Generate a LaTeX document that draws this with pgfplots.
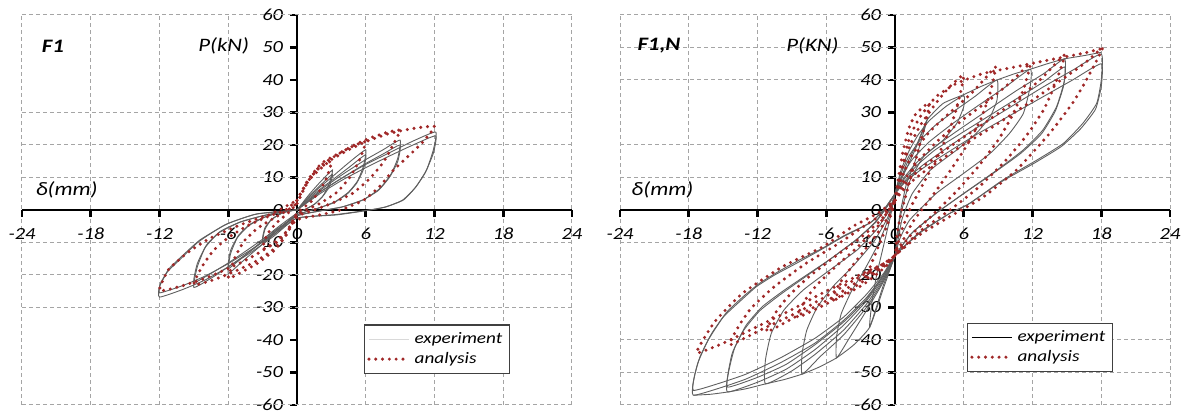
\documentclass[border=0pt]{standalone}
\usepackage{fontspec}
\setmainfont{Carlito}[FakeStretch=1.2]
\usepackage{pgfplots}
\pgfplotsset{compat=1.18}
\definecolor{anred}{RGB}{160,40,40}
\definecolor{exgray}{RGB}{95,95,95}
\definecolor{gridgray}{RGB}{165,165,165}
\tikzset{lbl/.style={font=\itshape\fontsize{9.5}{10}\selectfont}}
\pgfplotsset{
  hyst/.style={
    width=275pt, height=195pt, scale only axis,
    xmin=-24, xmax=24, ymin=-60, ymax=60,
    axis lines=middle, axis line style={-, line width=1.4pt, black},
    xtick={-24,-18,...,24}, ytick={-60,-50,...,60},
    hide obscured x ticks=false, hide obscured y ticks=false,
    xmajorgrids=true,
    grid style={dash pattern=on 2pt off 1.5pt, gridgray, line width=0.5pt},
    major tick style={line width=1.4pt, black},
    major tick length=3.5pt,
    tick align=outside,
    extra y tick labels={},
    extra y tick style={grid=major, major tick length=0pt},
    /pgf/number format/assume math mode=true,
    tick label style={font=\itshape\fontsize{8.5}{9}\selectfont},
    xticklabel style={yshift=-2pt},
    legend image code/.code={\draw[#1] (0pt,0pt) -- (20pt,0pt);},
    legend cell align=left,
  },
  exp/.style={exgray, line width=0.45pt, smooth, tension=0.3, forget plot},
  anaL/.style={anred, line width=1.7pt, line cap=round, dash pattern=on 0pt off 3.4pt},
  ana/.style={anaL, smooth, tension=0.3, forget plot},
}
\begin{document}
\begin{tikzpicture}
\path[use as bounding box] (0,0) rectangle (592pt,206pt);
% ---------------- left panel F1 ----------------
\begin{axis}[hyst, at={(11pt,3.5pt)}, anchor=south west,
  extra y ticks={60,30,20,10,-10,-20,-30,-60},
  legend style={at={(0.887,0.08)}, anchor=south east, draw=black!75, line width=0.6pt,
    font=\itshape\fontsize{8}{9}\selectfont, inner sep=1.5pt, row sep=-1pt}]
\addlegendimage{black!15, line width=0.45pt}
\addlegendentry{experiment}
\addlegendimage{anaL}
\addlegendentry{analysis}
% experiment
\addplot[exp] coordinates {(0,0) (1,4.5) (2,8.5) (3.1,12.3) (2.8,8) (2.3,4.5) (1.6,2) (0.8,0.3) (0,-1) (-1,-4) (-2,-7) (-3,-10) (-2.8,-6) (-2.3,-3.2) (-1.5,-1.3) (-0.7,-0.3) (0,0)};
\addplot[exp] coordinates {(0,0) (1,4) (2,7.5) (3.1,11) (2.8,7) (2.2,4) (1.5,1.7) (0.7,0.2) (0,-1) (-1,-3.5) (-2,-6.2) (-3,-9) (-2.8,-5.5) (-2.2,-2.8) (-1.4,-1.1) (-0.6,-0.2) (0,0)};
\addplot[exp] coordinates {(0,0) (1.5,5.5) (3,10) (4.5,14.5) (6,18.5) (5.8,13.5) (5.3,9) (4.5,5.5) (3.3,2.5) (1.8,0.5) (0,-1.5) (-1.5,-6) (-3,-10.5) (-4.5,-15) (-6,-19.5) (-5.8,-13.5) (-5.2,-8.5) (-4.2,-4.8) (-2.8,-2.2) (-1.3,-0.6) (0,0)};
\addplot[exp] coordinates {(0,0) (1.5,5) (3,9) (4.5,13) (6,17) (5.8,12.5) (5.2,8.2) (4.4,5) (3.2,2.2) (1.7,0.4) (0,-1.5) (-1.5,-5.5) (-3,-9.5) (-4.5,-13.8) (-6,-18) (-5.8,-12.5) (-5.1,-7.8) (-4.1,-4.4) (-2.7,-2) (-1.2,-0.5) (0,0)};
\addplot[exp] coordinates {(0,0) (2,6) (4,11) (6,15.5) (7.5,18.5) (9,21.5) (8.8,16) (8.2,11) (7.2,6.5) (5.8,3.2) (4,1) (2,-0.3) (0,-1.8) (-2,-7) (-4,-12.5) (-6,-17.5) (-7.5,-21) (-9,-23.8) (-8.7,-17.5) (-8,-11.5) (-6.8,-7) (-5,-3.8) (-3,-1.8) (-1.3,-0.6) (0,0)};
\addplot[exp] coordinates {(0,0) (2,5.5) (4,10) (6,14.3) (7.5,17.2) (9,20) (8.8,15) (8.1,10.2) (7.1,6) (5.7,3) (3.9,0.9) (2,-0.3) (0,-1.8) (-2,-6.5) (-4,-11.5) (-6,-16.3) (-7.5,-19.5) (-9,-22.3) (-8.7,-16.5) (-7.9,-10.8) (-6.7,-6.6) (-4.9,-3.6) (-2.9,-1.7) (-1.2,-0.5) (0,0)};
\addplot[exp] coordinates {(0,0) (2,5.5) (4,10) (6,14) (8,17.5) (10,21) (12.1,24) (11.9,18.5) (11.3,12.3) (10.4,7.2) (9.3,3.1) (7.8,1) (6.4,0) (3.5,-1.5) (0,-2.5) (-2,-8) (-4,-13) (-6,-17.5) (-8,-21.5) (-10,-24.5) (-12,-26.8) (-12,-23.6) (-11.3,-19) (-10.5,-16.2) (-8.6,-9.8) (-6.25,-4.5) (-3.6,-1.3) (0,0)};
\addplot[exp] coordinates {(0,0) (2,5) (4,9.3) (6,13) (8,16.5) (10,19.8) (12.1,22.8) (11.9,17.5) (11.2,11.5) (10.3,6.8) (9.2,3) (7.7,0.9) (6.3,0) (3.4,-1.4) (0,-2.5) (-2,-7.5) (-4,-12.2) (-6,-16.5) (-8,-20.3) (-10,-23.3) (-12,-25.5) (-11.9,-22.5) (-11.2,-18.2) (-10.4,-15.4) (-8.5,-9.3) (-6.1,-4.3) (-3.5,-1.2) (0,0)};
% analysis
\addplot[ana] coordinates {(0,2) (0.8,8) (1.8,12.5) (3,15) (2.6,10) (2,6) (1.2,2.5) (0,-1) (-0.8,-6) (-1.8,-10) (-3,-12) (-2.6,-7.5) (-1.8,-4) (-0.8,-1) (0,2)};
\addplot[ana] coordinates {(0,2) (1,9) (2,13.5) (3.5,17) (4.8,19.5) (6,21) (5.4,15) (4.6,10) (3.5,5.5) (2,2) (0,-1.5) (-1,-8) (-2,-12.5) (-3.5,-16.5) (-4.8,-19) (-6,-21) (-5.4,-14.5) (-4.6,-9.5) (-3.4,-5.5) (-2,-2.5) (-0.8,0) (0,2)};
\addplot[ana] coordinates {(0,3) (1,9.5) (2.2,14.5) (3.7,17.5) (5,20) (6.5,22.3) (8,24) (9,24.5) (8.3,19.5) (7.5,14.5) (6.3,9.5) (4.8,5) (3,2) (1.5,0) (0,-2) (-1,-8) (-2.2,-12.5) (-3.7,-16) (-5.5,-19) (-7.3,-21.5) (-9,-23) (-8.3,-17.5) (-7.3,-12.5) (-6,-8.5) (-4.3,-4.8) (-2.5,-2) (-1,0) (0,3)};
\addplot[ana] coordinates {(0,3) (1,9) (2,12.5) (3,15.5) (4.5,18.5) (6,21) (8,23.5) (10,25) (12,25.7) (11,21) (10,17.5) (8.4,12.2) (7.2,7.2) (5.8,3) (3.8,0) (2,-1.5) (0,-3) (-1,-7) (-2,-10) (-3,-12.5) (-4.5,-15.5) (-6,-18) (-8,-21) (-10,-23.3) (-12,-24.8) (-11.2,-18.3) (-9.5,-13) (-7.6,-8.7) (-4.9,-4.5) (-2.3,-1.3) (0,3)};
\node[font=\bfseries\itshape\fontsize{9.5}{10}\selectfont] at (axis cs:-21.3,50.5) {F1};
\node[lbl] at (axis cs:-6.4,50.5) {P(kN)};
\node[lbl] at (axis cs:-20.1,6.2) {δ(mm)};
\end{axis}
% ---------------- right panel F1,N ----------------
\begin{axis}[hyst, at={(310pt,3.5pt)}, anchor=south west,
  extra y ticks={60,50,40,20,10,-10,-40,-50,-60},
  legend style={at={(0.896,0.085)}, anchor=south east, draw=black!75, line width=0.6pt,
    font=\itshape\fontsize{8}{9}\selectfont, inner sep=1.5pt, row sep=-1pt}]
\addlegendimage{black, line width=0.5pt}
\addlegendentry{experiment}
\addlegendimage{anaL}
\addlegendentry{analysis}
% experiment
\addplot[exp] coordinates {(0,5) (0.5,9) (1.3,15) (2,20.5) (2.8,27.7) (2.3,21.5) (1.7,14.4) (1,8) (0.5,0) (0.2,-7) (0,-14) (-1,-23) (-2.2,-36) (-2,-28) (-1.6,-20) (-1,-11) (-0.4,-2) (0,5)};
\addplot[exp] coordinates {(0,5) (0.5,12) (1.2,18) (2,23) (3,27.5) (4.5,32) (6,35.2) (6,31.8) (5.4,26.7) (4.2,21.5) (2.5,16.4) (1.3,9) (0.6,0) (0.2,-7) (0,-14) (-1,-22) (-2.5,-31) (-4,-39.5) (-5.1,-45.5) (-5.1,-39) (-4.7,-32) (-3.8,-25) (-2.6,-18) (-1.4,-10) (-0.5,-2) (0,5)};
\addplot[exp] coordinates {(0,5) (0.5,11) (1.2,16.5) (2.2,21.5) (3.5,26) (5,30) (7,35) (8.9,40) (8.9,33.8) (8.3,28.7) (7.1,23.6) (5.4,18.5) (3.1,12.3) (1.5,5) (0.6,-3) (0,-14) (-1,-21.5) (-2.5,-30) (-4.5,-38.5) (-6.5,-45) (-8.1,-50.5) (-8.1,-44) (-7.7,-37) (-6.8,-30) (-5.4,-23.5) (-3.6,-17) (-1.8,-9.5) (-0.6,-2) (0,5)};
\addplot[exp] coordinates {(0,5) (0.6,10.5) (1.5,15.5) (3,21) (5,26.5) (7,31.5) (9.5,37.5) (11.8,43.3) (11.8,38) (11.2,29.7) (10,23.6) (8.3,17.4) (6,11.3) (3.6,5.1) (1.3,-3) (0.4,-9) (0,-14) (-1,-21) (-2.5,-29) (-4.5,-37) (-7,-44.5) (-9,-49.5) (-11.3,-53.5) (-11.3,-46) (-10.8,-38) (-9.7,-30.8) (-8,-24.6) (-5.7,-18.5) (-3.3,-12.3) (-1.6,-6) (-0.5,0) (0,5)};
\addplot[exp] coordinates {(0,5) (0.8,10) (2,15) (3.5,19.5) (5.5,24.5) (8,30.5) (10.5,36.5) (13,42) (14.8,46.5) (14.8,40) (14.1,31.8) (12.9,24.6) (11.2,18.5) (8.9,12.3) (6,5.1) (3.6,-1) (1.5,-7) (0,-14) (-1,-20.5) (-2.5,-28) (-4.5,-35.5) (-7,-43) (-9.5,-49) (-12,-53) (-14.6,-56) (-14.6,-51) (-14.2,-44) (-13.2,-37) (-11.8,-31) (-10,-26) (-8,-21) (-5.8,-15.5) (-3.5,-9.5) (-1.8,-4) (-0.7,1) (0,5)};
\addplot[exp] coordinates {(0,5) (0.8,9.5) (2,14) (3.5,18.5) (5.5,23) (8,28.5) (10.5,34) (13,39.5) (14.8,44) (14.7,38) (14,30.5) (12.8,23.5) (11,17.5) (8.7,11.6) (5.9,4.8) (3.5,-1.2) (1.5,-7) (0,-14) (-1,-20) (-2.5,-27.5) (-4.5,-34.5) (-7,-41.5) (-9.5,-47.5) (-12,-51.5) (-14.6,-54.5) (-14.5,-49.5) (-14,-42.5) (-13,-35.5) (-11.6,-29.8) (-9.8,-25) (-7.8,-20.2) (-5.6,-15) (-3.4,-9.2) (-1.7,-3.8) (-0.7,1) (0,5)};
\addplot[exp] coordinates {(0,5) (1,9.5) (2.5,14) (4.5,19) (7,25) (10,31.5) (13,38) (15.5,43) (18,48) (18,40) (17.6,32.8) (16.4,26.7) (14.7,20.5) (12.4,15.4) (9.4,9.2) (6.5,2) (4.8,-1) (2.2,-7) (0,-14) (-1,-20) (-2.5,-27) (-4.5,-34) (-7,-41) (-10,-47) (-13,-52) (-15.5,-55) (-17.6,-57) (-17.6,-53) (-17.2,-47) (-16.3,-40) (-15,-33) (-13.5,-28) (-12.1,-23.6) (-10.5,-20) (-8.6,-16.4) (-6.5,-12.3) (-4.5,-8.2) (-2.2,-4) (-1,0) (0,5)};
\addplot[exp] coordinates {(0,5) (1,9) (2.5,13) (4.5,17.5) (7,23) (10,29) (13,35) (15.5,40) (18,45) (18,38) (17.5,31) (16.2,25) (14.5,19.5) (12.2,14.5) (9.2,8.5) (6.4,1.8) (4.7,-1.2) (2.1,-7) (0,-14) (-1,-19.5) (-2.5,-26) (-4.5,-33) (-7,-39.5) (-10,-45.5) (-13,-50.5) (-15.5,-53.5) (-17.6,-55.5) (-17.5,-51) (-17,-45) (-16,-38) (-14.7,-31.5) (-13.2,-26.5) (-11.8,-22.5) (-10.2,-19) (-8.4,-15.5) (-6.3,-11.7) (-4.4,-7.8) (-2.1,-3.8) (-1,0) (0,5)};
\addplot[exp] coordinates {(0,5) (1,14) (2,21) (2.8,27.7) (4.2,32.8) (6,35.5) (7.5,38) (8.9,40) (10.5,42) (11.8,43.3) (13.3,45) (14.8,46.5) (16.5,47.5) (18,48.5)};
\addplot[exp] coordinates {(0,-14) (-1,-24) (-2.2,-36) (-3.6,-41.5) (-5.1,-45.5) (-6.6,-48.3) (-8.1,-50.5) (-9.7,-52.2) (-11.3,-53.5) (-13,-55) (-14.6,-56) (-16.1,-56.7) (-17.6,-57)};
% analysis
\addplot[ana] coordinates {(0,3) (0.3,10) (0.7,18) (1.2,25) (1.8,29.5) (3,33) (2.6,26) (2,18) (1.3,9) (0.6,0) (0.2,-7) (0,-14) (-1,-17) (-2.5,-21) (-2,-16) (-1.3,-10) (-0.5,-3) (0,3)};
\addplot[ana] coordinates {(0,3) (0.5,11) (1.2,19) (2.2,26) (3.6,33) (4.8,38) (6,41.5) (5.5,33) (4.8,25) (3.8,17) (2.6,9) (1.4,1) (0.5,-7) (0,-14) (-1,-18) (-2.8,-23) (-5.5,-28) (-4.9,-23) (-4,-18.5) (-2.8,-13) (-1.5,-7) (-0.4,-1) (0,3)};
\addplot[ana] coordinates {(0,3) (0.6,10) (1.5,17) (3,24) (4.8,30) (6.7,36) (8,41) (8.8,44) (8.3,36) (7.5,28) (6.3,20) (4.8,12) (3.2,4) (1.5,-4) (0,-14) (-1,-17.5) (-2.8,-22) (-5.5,-28) (-8.5,-33) (-7.8,-27.5) (-6.8,-23) (-5.2,-17.5) (-3.3,-11.5) (-1.5,-5) (0,3)};
\addplot[ana] coordinates {(0,3) (0.8,9) (2,15) (3.8,21.5) (6,28) (8.3,34) (10.3,40) (11.8,45) (11.2,37) (10.3,29.5) (9,21.5) (7.3,13.5) (5.3,5.5) (3,-2.5) (1.3,-8) (0,-14) (-1,-17) (-2.8,-21) (-5.5,-27) (-8.5,-32.5) (-11.2,-37.5) (-10.4,-31.5) (-9.3,-26.5) (-7.5,-20.5) (-5.3,-14.5) (-3,-8.5) (-1.2,-3) (0,3)};
\addplot[ana] coordinates {(0,3) (1,8.5) (2.5,13.5) (4.8,19.5) (7.5,26) (10.3,33) (12.8,40.5) (14.8,47.7) (14,39) (13,31) (11.5,23) (9.6,15) (7.3,7) (4.8,0) (2.2,-6.5) (0,-14) (-1,-16.5) (-2.8,-20) (-5.5,-25.5) (-8.5,-31.5) (-11.5,-36.5) (-14.4,-41.5) (-13.6,-35.5) (-12.5,-30) (-10.5,-23.5) (-7.8,-16.5) (-5,-10.5) (-2.5,-4.5) (-1,-1) (0,3)};
\addplot[ana] coordinates {(0,3) (1.2,8) (3,13) (5.5,19) (8.5,25.5) (11.5,32.5) (14.3,39.5) (16.5,45) (18.1,49.7) (16.7,40) (15.5,32.9) (13.5,23.6) (10.6,12.3) (7.7,4) (4.8,-2) (2.2,-7.5) (0,-14) (-1,-16.5) (-2.8,-19.5) (-6.3,-25.5) (-9.2,-31) (-12.1,-36) (-15,-41) (-17.3,-44) (-16.5,-38.5) (-15.6,-33.8) (-13.3,-25.6) (-9.8,-17.4) (-6.3,-11.3) (-3.7,-5.1) (-1.5,-1) (0,3)};
\addplot[ana] coordinates {(0,3) (0.7,14.4) (1.3,22.6) (2.2,28.7) (3.6,34.9) (5.4,39) (7.7,42) (10.6,44.1) (13.5,46.2) (16.4,48.2) (18.1,49.7)};
\node[font=\bfseries\itshape\fontsize{9.5}{10}\selectfont] at (axis cs:-20.6,50.5) {F1,N};
\node[lbl] at (axis cs:-7.2,50.5) {P(KN)};
\node[lbl] at (axis cs:-20.3,6.2) {δ(mm)};
\end{axis}
\end{tikzpicture}
\end{document}
